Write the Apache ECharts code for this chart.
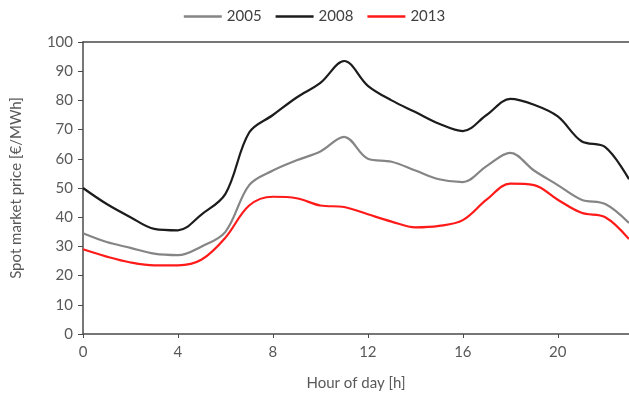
<!DOCTYPE html>
<html><head><meta charset="utf-8">
<script src="https://cdn.jsdelivr.net/npm/echarts@6/dist/echarts.min.js"></script>
<style>html,body{margin:0;padding:0;background:#fff}#c{width:629px;height:398px}</style>
</head><body><div id="c"></div>
<script>
const hours = [0,1,2,3,4,5,6,7,8,9,10,11,12,13,14,15,16,17,18,19,20,21,22,23];
const xTicks = [0,4,8,12,16,20];
const yTicks = [0,10,20,30,40,50,60,70,80,90,100];
const seriesNames = ['2005','2008','2013'];
const v2005 = [34.5,31.5,29.5,27.5,27,30,35,51,56,59.5,62.5,67.5,60,59,56,53,52,57.5,62,56,51,46,44.5,38];
const v2008 = [50,44.5,40,36,35.5,41,48,69,75,81,86,93.5,85,80,76,72,69.5,75,80.5,78.5,74.5,66,64,53];
const v2013 = [29,26.5,24.5,23.5,23.5,25.5,33,44,47,46.5,44,43.5,41,38.5,36.5,37,39,46,51.5,51,46,41.5,40,32.5];

const colors = ['#858585','#1c1c1c','#ff1a1a'];
const vals = [v2005, v2008, v2013];
const font = 'Lato, "Liberation Sans", sans-serif';
const chart = echarts.init(document.getElementById('c'), null, {renderer:'canvas'});
chart.setOption({
  animation:false,
  textStyle:{fontFamily:font},
  legend:{
    top:4, left:'center',
    data:seriesNames,
    icon:'rect',
    itemWidth:38, itemHeight:2.5, itemGap:14,
    textStyle:{fontSize:15,color:'#404040',fontFamily:font}
  },
  grid:{left:83, right:0, top:42, bottom:64},
  xAxis:[{
    type:'value', min:0, max:23, interval:4,
    name:'Hour of day [h]', nameLocation:'middle', nameGap:42,
    nameTextStyle:{fontSize:15,color:'#595959',fontFamily:font},
    axisLine:{lineStyle:{color:'#4a4a4a',width:1.5}},
    axisTick:{show:true,length:4,inside:false,lineStyle:{color:'#4a4a4a'}},
    axisLabel:{fontSize:15,color:'#595959',margin:11,fontFamily:font,
      showMaxLabel:false, formatter:v=>xTicks.includes(v)?String(v):''},
    splitLine:{show:false}
  },{
    type:'value', position:'top', min:0, max:23,
    axisLine:{show:true,onZero:false,lineStyle:{color:'#4a4a4a',width:1.5}},
    axisTick:{show:false}, axisLabel:{show:false}, splitLine:{show:false}
  }],
  yAxis:{
    type:'value', min:0, max:100, interval:10,
    name:'Spot market price [€/MWh]', nameLocation:'middle', nameGap:59,
    nameTextStyle:{fontSize:15,color:'#595959',fontFamily:font},
    axisLine:{show:true,lineStyle:{color:'#4a4a4a',width:1.5}},
    axisTick:{show:true,length:5,lineStyle:{color:'#4a4a4a'}},
    axisLabel:{fontSize:15,color:'#595959',margin:10,fontFamily:font,
      formatter:v=>yTicks.includes(v)?String(v):''},
    splitLine:{show:false}
  },
  series: seriesNames.map((n,i)=>({
    name:n, type:'line', xAxisIndex:0, symbol:'none', smooth:0.35,
    data: hours.map((h,j)=>[h, vals[i][j]]),
    lineStyle:{color:colors[i], width:2.2},
    itemStyle:{color:colors[i]}
  }))
});
</script></body></html>
